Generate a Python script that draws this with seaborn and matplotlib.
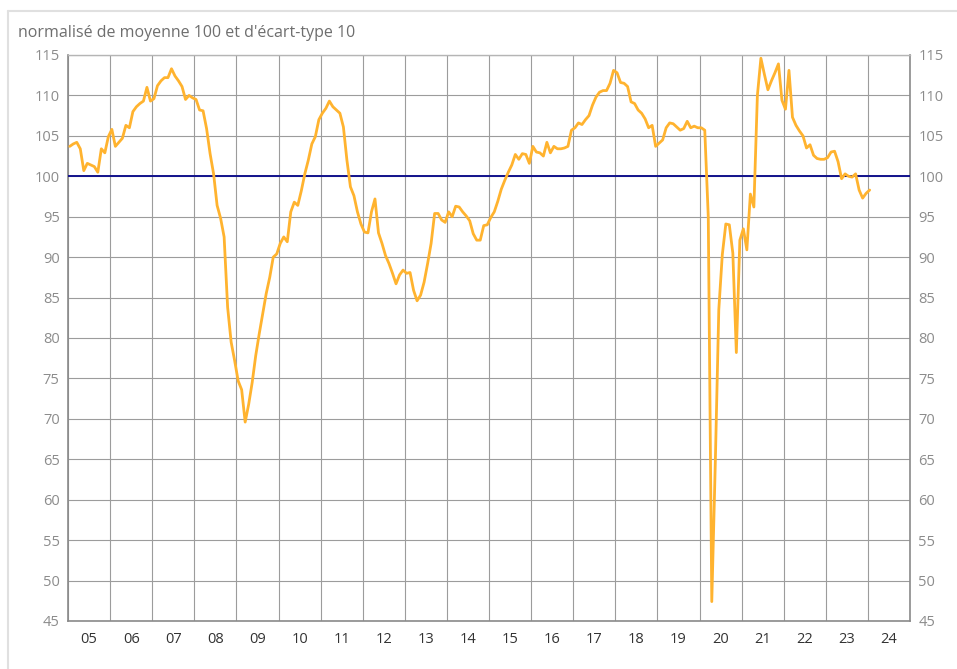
import numpy as np
import pandas as pd
import matplotlib
matplotlib.use("Agg")
import matplotlib.pyplot as plt
import seaborn as sns
from matplotlib.lines import Line2D

# ===================== DONNEES =====================
annee_debut = 2005

# valeurs mensuelles, janvier 2005 -> janvier 2024
indice = [
    103.7, 104.0, 104.2, 103.4, 100.7, 101.6, 101.4, 101.2, 100.5, 103.4, 102.9, 104.9,  # 05
    105.8, 103.7, 104.2, 104.7, 106.3, 106.0, 108.0, 108.6, 109.0, 109.3, 111.0, 109.3,  # 06
    109.6, 111.2, 111.8, 112.2, 112.2, 113.3, 112.4, 111.8, 111.1, 109.5, 110.0, 109.7,  # 07
    109.5, 108.2, 108.1, 105.9, 102.8, 100.3, 96.4, 94.8, 92.5, 83.8, 79.5, 77.2,        # 08
    74.7, 73.6, 69.6, 71.8, 74.5, 77.8, 80.5, 83.0, 85.5, 87.5, 90.0, 90.4,              # 09
    91.7, 92.5, 91.9, 95.6, 96.8, 96.4, 98.2, 100.3, 102.0, 104.0, 104.9, 107.0,         # 10
    107.8, 108.4, 109.3, 108.6, 108.2, 107.8, 106.1, 102.0, 98.7, 97.6, 95.6, 94.1,      # 11
    93.1, 93.0, 95.6, 97.2, 93.0, 91.7, 90.2, 89.2, 88.0, 86.7, 87.8, 88.4,              # 12
    88.0, 88.1, 85.9, 84.6, 85.3, 86.9, 89.2, 91.7, 95.4, 95.4, 94.6, 94.3,              # 13
    95.6, 95.0, 96.3, 96.2, 95.6, 95.1, 94.5, 92.9, 92.1, 92.1, 93.9, 94.0,              # 14
    94.9, 95.6, 96.9, 98.4, 99.5, 100.5, 101.4, 102.7, 102.1, 102.8, 102.7, 101.6,       # 15
    103.7, 103.0, 102.9, 102.5, 104.2, 102.9, 103.7, 103.4, 103.4, 103.5, 103.7, 105.7,  # 16
    106.0, 106.6, 106.4, 107.0, 107.5, 108.8, 109.8, 110.4, 110.6, 110.6, 111.5, 113.1,  # 17
    112.8, 111.6, 111.5, 111.1, 109.2, 109.0, 108.2, 107.8, 107.1, 106.0, 106.3, 103.7,  # 18
    104.1, 104.5, 106.0, 106.6, 106.5, 106.1, 105.7, 105.9, 106.8, 106.0, 106.2, 106.0,  # 19
    106.0, 105.7, 95.0, 47.4, 64.5, 83.5, 90.3, 94.1, 94.0, 90.5, 78.2, 92.1,            # 20
    93.5, 90.9, 97.8, 96.2, 110.0, 114.6, 112.6, 110.7, 111.8, 112.8, 113.9, 109.4,      # 21
    108.3, 113.1, 107.3, 106.3, 105.6, 105.0, 103.5, 103.9, 102.6, 102.2, 102.1, 102.1,  # 22
    102.3, 103.0, 103.1, 101.8, 99.7, 100.3, 100.0, 99.9, 100.3, 98.3, 97.3, 97.9,       # 23
    98.3,                                                                                # 24
]

annees_labels = ["05", "06", "07", "08", "09", "10", "11", "12", "13", "14",
                 "15", "16", "17", "18", "19", "20", "21", "22", "23", "24"]
niveau_ref = 100
titre = "normalisé de moyenne 100 et d'écart-type 10"

# ===================== PREPARATION =====================
mois = np.arange(len(indice))
df = pd.DataFrame({"date": annee_debut + (mois + 0.5) / 12, "indice": indice})
annee_fin = annee_debut + len(annees_labels)

sns.set_style("white")
plt.rcParams['font.family'] = ['Open Sans', 'DejaVu Sans']

W, H = 957, 669
fig = plt.figure(figsize=(W / 100, H / 100), dpi=100)
ax = fig.add_axes([68 / W, 1 - 621 / H, (910 - 68) / W, (621 - 55) / H])

# ===================== GRAPHIQUE =====================
ax.axhline(niveau_ref, color="#12128c", lw=1.4, zorder=3)
sns.lineplot(data=df, x="date", y="indice", color="#FFB32F", linewidth=2.0,
             ax=ax, zorder=4)

ax.set_xlim(annee_debut, annee_fin)
ax.set_ylim(45, 115)
ax.set_yticks(np.arange(45, 116, 5))
ax.set_xticks(np.arange(annee_debut, annee_fin + 1))
ax.set_xticklabels([])
ax.set_xticks(np.arange(annee_debut, annee_fin) + 0.5, minor=True)
ax.set_xticklabels(annees_labels, minor=True)
ax.set_xlabel("")
ax.set_ylabel("")

ax.grid(True, which="major", color="#9c9c9c", lw=0.8)
ax.tick_params(axis="y", left=True, right=True, labelleft=True, labelright=True,
               length=0, pad=6, labelsize=10.5, labelcolor="#8c8c8c")
ax.tick_params(axis="x", which="major", length=21, width=0.8, color="#9c9c9c",
               direction="out")
ax.tick_params(axis="x", which="minor", length=0, pad=8, labelsize=10.5,
               labelcolor="#333333")

for side in ["left", "right", "bottom"]:
    ax.spines[side].set_color("#8a8a8a")
    ax.spines[side].set_linewidth(1.2)
ax.spines["top"].set_color("#b5b5b5")
ax.spines["top"].set_linewidth(1.0)

# titre et cadre
fig.text(18 / W, 1 - 33 / H, titre, ha="left", va="center",
         fontsize=11.5, color="#6e6e6e")
fig.add_artist(Line2D([8 / W, 8 / W], [0, 1 - 11 / H], transform=fig.transFigure,
                      color="#e0e0e0", lw=1.5))
fig.add_artist(Line2D([8 / W, 1], [1 - 11 / H, 1 - 11 / H], transform=fig.transFigure,
                      color="#e0e0e0", lw=1.5))

fig.savefig("out.png", dpi=100)
